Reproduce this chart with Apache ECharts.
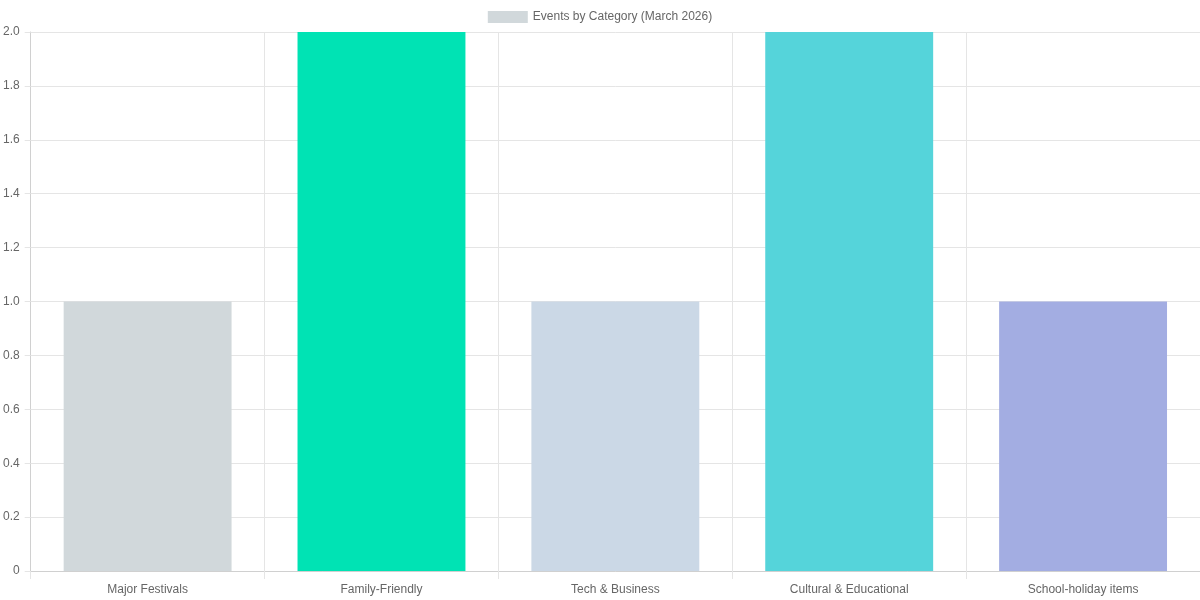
<!DOCTYPE html>
<html><head><meta charset="utf-8">
<script src="https://cdn.jsdelivr.net/npm/echarts@6/dist/echarts.min.js"></script>
<style>html,body{margin:0;padding:0;background:#fff}#c{width:1200px;height:600px}</style>
</head><body><div id="c"></div>
<script>
const categories = ['Major Festivals','Family-Friendly','Tech & Business','Cultural & Educational','School-holiday items'];
const values = [1, 2, 1, 2, 1];
const barColors = ['#d1d8db','#00e3b4','#cbd8e6','#55d4da','#a3ade2'];
const seriesName = 'Events by Category (March 2026)';

const chart = echarts.init(document.getElementById('c'));
chart.setOption({
  animation: false,
  textStyle: {fontFamily: 'Liberation Sans, Arial, sans-serif'},
  legend: {
    top: 6, left: 'center',
    itemWidth: 40, itemHeight: 12, itemGap: 10,
    icon: 'rect',
    textStyle: {color: '#666', fontSize: 12},
    data: [seriesName]
  },
  grid: {left: 30, right: 0, top: 32, bottom: 29, containLabel: false},
  xAxis: {
    type: 'category', data: categories, boundaryGap: true,
    axisLine: {lineStyle: {color: '#d0d0d0'}},
    axisTick: {show: true, length: 8, lineStyle: {color: '#e5e5e5'}},
    axisLabel: {color: '#666', fontSize: 12, margin: 13},
    splitLine: {show: true, lineStyle: {color: '#e5e5e5'}}
  },
  yAxis: {
    type: 'value', min: 0, max: 2, interval: 0.2,
    axisLine: {show: true, lineStyle: {color: '#d0d0d0'}},
    axisTick: {show: true, length: 6, lineStyle: {color: '#e5e5e5'}},
    axisLabel: {color: '#666', fontSize: 12, margin: 11, padding: [3, 0, 0, 0],
      formatter: v => v === 0 ? '0' : v.toFixed(1)},
    splitLine: {show: true, lineStyle: {color: '#e5e5e5'}}
  },
  series: [{
    name: seriesName, type: 'bar', barCategoryGap: '28.2%',
    itemStyle: {color: barColors[0]},
    data: values.map((v, i) => ({value: v, itemStyle: {color: barColors[i]}}))
  }]
});
</script></body></html>
